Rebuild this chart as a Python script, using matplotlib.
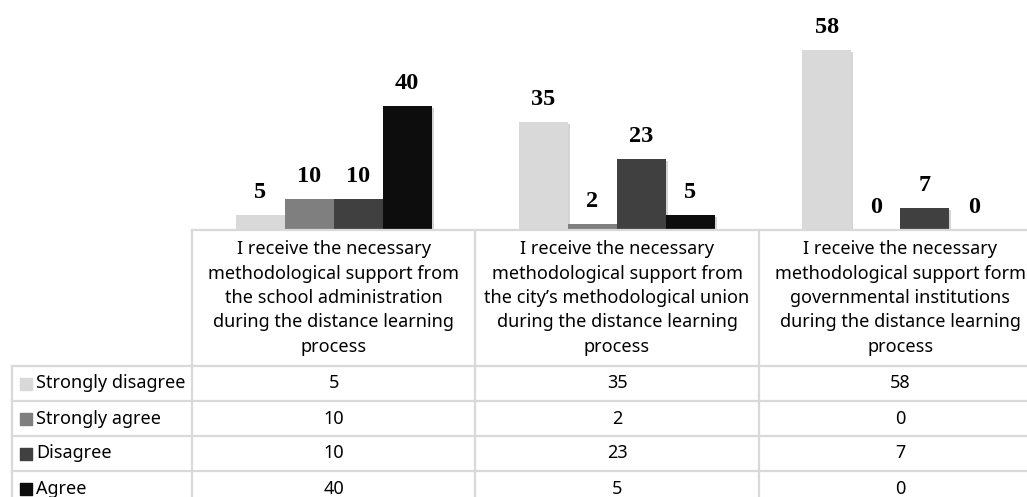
import numpy as np
import matplotlib
matplotlib.use("Agg")
import matplotlib.pyplot as plt
import matplotlib.patheffects as pe

# data
questions = [
    "I receive the necessary\nmethodological support from\nthe school administration\nduring the distance learning\nprocess",
    "I receive the necessary\nmethodological support from\nthe city\u2019s methodological union\nduring the distance learning\nprocess",
    "I receive the necessary\nmethodological support form\ngovernmental institutions\nduring the distance learning\nprocess",
]
series = ["Strongly disagree", "Strongly agree", "Disagree", "Agree"]
strongly_disagree = [5, 35, 58]
strongly_agree = [10, 2, 0]
disagree = [10, 23, 7]
agree = [40, 5, 0]
values = [strongly_disagree, strongly_agree, disagree, agree]
colors = ["#d9d9d9", "#7f7f7f", "#404040", "#0d0d0d"]

W, H = 1027, 497
fig = plt.figure(figsize=(W / 100, H / 100), dpi=100)

# bar area, cropped on the right like the original
ax = fig.add_axes([192 / W, (H - 230) / H, (1042 - 192) / W, (230 - 13) / H])
ax.set_xlim(-0.5, 2.5)
ax.set_ylim(0, 70)
ax.axis("off")

x = np.arange(len(questions))
bw = 0.173
shadow = [pe.SimplePatchShadow(offset=(1.5, -1.5), shadow_rgbFace="#888888", alpha=0.35), pe.Normal()]
for i, (name, vals) in enumerate(zip(series, values)):
    bars = ax.bar(x + (i - 1.5) * bw, vals, bw, color=colors[i], label=name)
    for b in bars:
        b.set_path_effects(shadow)
    ax.bar_label(bars, padding=8.5, fontsize=17.5, fontweight="bold",
                 family="Liberation Serif")

# data table below
lab_w = 180 / 283.3
hdr = 136 / 35
nrows = len(series)
tab = fig.add_axes([12 / W, (H - 230 - (hdr + nrows) * 35) / H,
                    (1042 - 12) / W, (hdr + nrows) * 35 / H])
tab.set_xlim(-0.5 - lab_w, 2.5)
tab.set_ylim(hdr + nrows, 0)
tab.axis("off")

lc = "#d9d9d9"
lw = 1.6
tab.plot([-0.5, 2.5], [0, 0], color=lc, lw=lw, clip_on=False)
for r in range(nrows + 1):
    tab.plot([-0.5 - lab_w, 2.5], [hdr + r, hdr + r], color=lc, lw=lw, clip_on=False)
tab.plot([-0.5 - lab_w, -0.5 - lab_w], [hdr, hdr + nrows], color=lc, lw=lw, clip_on=False)
for c in range(len(questions) + 1):
    tab.plot([c - 0.5, c - 0.5], [0, hdr + nrows], color=lc, lw=lw, clip_on=False)

font = "Noto Sans"
fs = 13
for c, q in enumerate(questions):
    tab.text(c, hdr / 2, q, ha="center", va="center", fontsize=fs, family=font,
             linespacing=1.45, color="#000000")
for r, (name, vals) in enumerate(zip(series, values)):
    yc = hdr + r + 0.5
    tab.scatter([-0.5 - lab_w + 0.05], [yc], marker="s", s=65, color=colors[r], clip_on=False)
    tab.text(-0.5 - lab_w + 0.085, yc, name, ha="left", va="center", fontsize=fs, family=font)
    for c, v in enumerate(vals):
        tab.text(c, yc, str(v), ha="center", va="center", fontsize=fs, family=font)

fig.savefig("out.png", dpi=100)
